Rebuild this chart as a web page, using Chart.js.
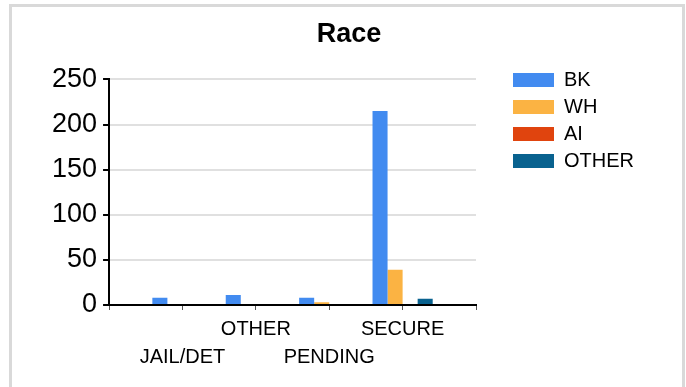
<!DOCTYPE html>
<html>
<head>
<meta charset="utf-8">
<script src="https://cdn.jsdelivr.net/npm/chart.js@4"></script>
<style>
  html, body { margin: 0; padding: 0; background: #fff; }
  #Wrap { position: relative; width: 686px; height: 387px; overflow: hidden; }
  #Frame { position: absolute; left: 9px; top: 4px; width: 670px; height: 420px;
           border: 3px solid #d9d9d9; pointer-events: none; }
  canvas { position: absolute; left: 0; top: 0; }
</style>
</head>
<body>
<div id="Wrap">
  <canvas id="Race__Chart" width="686" height="387"></canvas>
  <div id="Frame"></div>
</div>
<script>
/* categories on the x axis */
const categories = ["JAIL/DET", "OTHER", "PENDING", "SECURE"];
/* one value per category for every race */
const bkValues = [8, 11, 8, 215];
const whValues = [1, 1, 3, 39];
const aiValues = [0, 0, 0, 1];
const otherValues = [0, 0, 0, 7];
/* y axis ticks */
const yTicks = [0, 50, 100, 150, 200, 250];

const FONT = "'Liberation Sans', Arial, sans-serif";

/* the chart keeps an empty slot at both ends so the bars sit on the tick marks */
const labels = ["", ...categories, ""];
const pad = arr => [null, ...arr, null];

/* where the legend items should start and where the title is centred (canvas pixels) */
const LegendX = 513;
const LegendY = 70;
const TitleCenter = 349;

const boxShift = {
  id: "boxShift",
  afterLayout(chart) {
    const l = chart.legend;
    const p = l.options.labels.padding;
    const dx = LegendX - (l.left + p);
    const dy = LegendY - (l.top + p);
    l.left += dx; l.right += dx;
    l.top += dy; l.bottom += dy;
    /* the title is centred on the whole frame, not on the plot */
    const t = chart.titleBlock;
    const tx = TitleCenter - (t.left + t.right) / 2;
    t.left += tx; t.right += tx;
  }
};

new Chart(document.getElementById("Race__Chart"), {
  type: "bar",
  plugins: [boxShift],
  data: {
    labels: labels,
    datasets: [
      { label: "BK", data: pad(bkValues), backgroundColor: "#428bf0" },
      { label: "WH", data: pad(whValues), backgroundColor: "#fbb343" },
      { label: "AI", data: pad(aiValues), backgroundColor: "#e0440e" },
      { label: "OTHER", data: pad(otherValues), backgroundColor: "#09628f" }
    ]
  },
  options: {
    responsive: false,
    animation: false,
    categoryPercentage: 0.82,
    barPercentage: 1,
    layout: { padding: { left: 46, right: 72, top: 0, bottom: 11 } },
    plugins: {
      tooltip: { enabled: false },
      title: {
        display: true,
        text: "Race",
        color: "#000",
        font: { family: FONT, size: 27, weight: "bold" },
        padding: { top: 18, bottom: 29 }
      },
      legend: {
        position: "right",
        align: "start",
        labels: {
          color: "#000",
          boxWidth: 41,
          boxHeight: 14,
          padding: 7,
          font: { family: FONT, size: 20 }
        }
      }
    },
    scales: {
      x: {
        offset: false,
        grid: { drawOnChartArea: false, color: "#555", tickLength: 5, offset: false },
        border: { color: "#000", width: 2 },
        ticks: {
          autoSkip: false,
          maxRotation: 0,
          padding: 5,
          color: "#000",
          font: { family: FONT, size: 20, lineHeight: 1.4 },
          /* stagger the names on two rows */
          callback(value, index) {
            const name = labels[index];
            if (!name) return "";
            return (index % 2 === 1) ? ["", name] : [name];
          }
        }
      },
      y: {
        min: yTicks[0],
        max: yTicks[yTicks.length - 1],
        afterBuildTicks(scale) { scale.ticks = yTicks.map(v => ({ value: v })); },
        grid: { color: "#e0e0e0", lineWidth: 2, tickColor: "#000", tickLength: 6 },
        border: { color: "#000", width: 2 },
        ticks: {
          padding: 6,
          color: "#000",
          font: { family: FONT, size: 27 }
        }
      }
    }
  }
});
</script>
</body>
</html>
